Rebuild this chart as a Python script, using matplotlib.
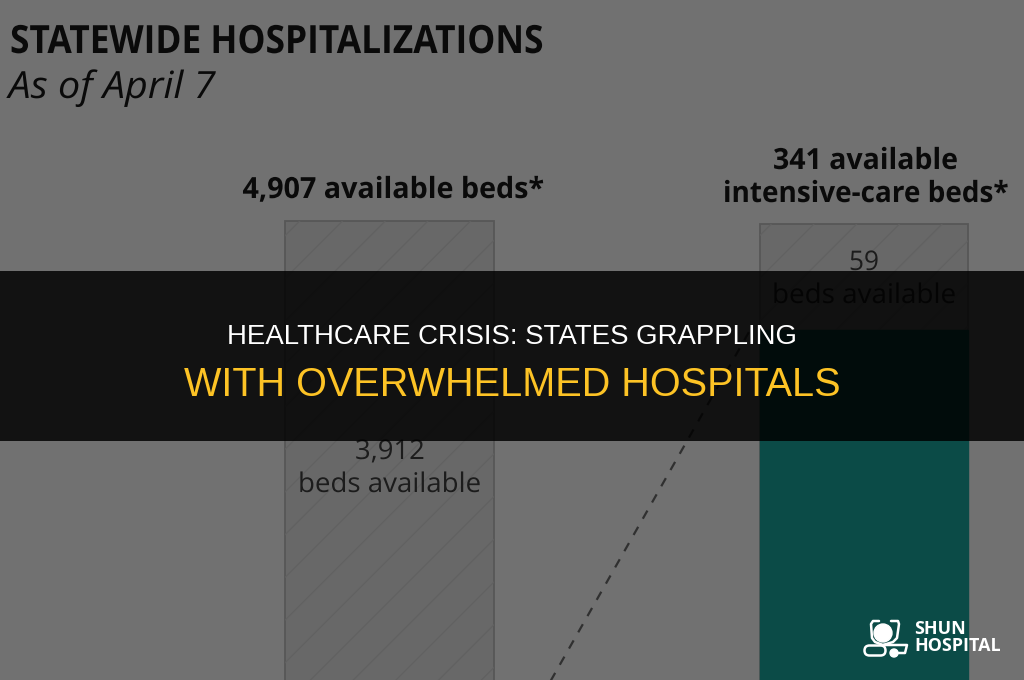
import numpy as np
import matplotlib
matplotlib.use("Agg")
import matplotlib.pyplot as plt
import matplotlib.patheffects as pe
from matplotlib.patches import Circle, FancyBboxPatch, Rectangle
from matplotlib.text import Text
from matplotlib.transforms import Affine2D

plt.rcParams['font.family'] = ['Open Sans', 'DejaVu Sans']

# bed counts as printed on the chart
general_total = 4907
general_free = 3912
icu_total = 341
icu_free = 59

# trend line between the two bars, in ICU beds
trend_x = [0.22, 0.76]
trend_y = [31, 282]

BG = "#717171"
BAR = "#686868"
EDGE = "#575757"
HATCH = "#616161"
TEAL = "#0b4b47"
INK = "#0a0a0a"

W, H = 1024, 680

fig = plt.figure(figsize=(W / 100, H / 100), dpi=100, facecolor=BG)
renderer = fig.canvas.get_renderer()


class Squeeze(pe.AbstractPathEffect):
    """Narrow glyph outlines horizontally around a fixed x pixel."""

    def __init__(self, x, factor):
        super().__init__()
        self.x = x
        self.factor = factor

    def draw_path(self, renderer, gc, tpath, affine, rgbFace=None):
        squeeze = Affine2D().translate(-self.x, 0).scale(self.factor, 1).translate(self.x, 0)
        renderer.draw_path(gc, tpath, affine + squeeze, rgbFace)


class NarrowText(Text):
    factor = 1.0

    def get_window_extent(self, renderer=None, dpi=None):
        box = super().get_window_extent(renderer, dpi)
        cx = self.get_position()[0] * W
        if self.get_ha() == "center":
            x0 = cx + (box.x0 - cx) * self.factor
            x1 = cx + (box.x1 - cx) * self.factor
        else:
            x0 = box.x0
            x1 = box.x0 + box.width * self.factor
        return type(box).from_extents(x0, box.y0, x1, box.y1)


def narrow_label(x, baseline, s, width, size, zorder=3, **kw):
    # x and baseline in pixels from the top left, width is the drawn width of the text
    t = NarrowText(x / W, 1 - baseline / H, s, transform=fig.transFigure, fontsize=size,
                   va="baseline", zorder=zorder, **kw)
    fig.add_artist(t)
    natural = Text.get_window_extent(t, renderer).width
    t.factor = width / natural
    t.set_path_effects([Squeeze(x, t.factor)])
    return t


# two overlaid axes, one bed scale per bar
ax = fig.add_axes([0, 0, 1, 1])
ax.set_xlim(-0.821, 1.337)
ax.set_ylim(1257, 6668)
ax.axis("off")
ax2 = fig.add_axes([0, 0, 1, 1], sharex=ax)
ax2.set_ylim(87, 465.6)
ax2.axis("off")
ax2.patch.set_alpha(0)

width = 0.44


def hatched_bar(axis, x, total, free):
    bar = axis.bar(x, total, width=width, color=BAR, edgecolor=EDGE, linewidth=1.3, zorder=2)[0]
    y0, y1 = axis.get_ylim()
    # sparse diagonal lines, clipped to the bar
    for off in np.arange(-1.0, 1.0, 0.09):
        xs = np.array([x - width, x + width])
        ys = y0 + (y1 - y0) * ((xs - x + off) * 474.5 / 680 + 0.5)
        ln, = axis.plot(xs, ys, color=HATCH, lw=0.9, zorder=3)
        ln.set_clip_path(bar)
    axis.bar(x, total - free, width=width, color=TEAL, edgecolor=TEAL, zorder=4)
    axis.set_ylim(y0, y1)


hatched_bar(ax, 0, general_total, general_free)
hatched_bar(ax2, 1, icu_total, icu_free)
ax2.plot(trend_x, trend_y, color="#303030", lw=1.6, dashes=(4.2, 4.2), zorder=5)
ax.set_xlim(-0.821, 1.337)

# headings
narrow_label(10, 53, "STATEWIDE HOSPITALIZATIONS", 533, 28, fontweight="bold", color=INK)
narrow_label(8.5, 98, "As of April 7", 207, 27, style="italic", color=INK)
narrow_label(393, 198, "4,907 available beds*", 301, 21, fontweight="bold", color=INK, ha="center")
narrow_label(865.5, 169, "341 available", 185, 21, fontweight="bold", color=INK, ha="center")
narrow_label(865.5, 202, "intensive-care beds*", 285, 21, fontweight="bold", color=INK, ha="center")
narrow_label(390, 459, "3,912", 70, 19.5, color="#1c1c1c", ha="center")
narrow_label(390, 492, "beds available", 184, 19.5, color="#1c1c1c", ha="center")
narrow_label(864, 270, "59", 30, 19.5, color="#1c1c1c", ha="center")
narrow_label(864.5, 303, "beds available", 185, 19.5, color="#1c1c1c", ha="center")

# dark caption band across the middle
fig.add_artist(Rectangle((0, 1 - 441 / H), 1, 170 / H, transform=fig.transFigure,
                         facecolor="black", alpha=0.84, edgecolor="none", zorder=8))
fig.text(0.5, 1 - 344 / H, "HEALTHCARE CRISIS: STATES GRAPPLING", fontsize=19.9, color="white",
         ha="center", va="baseline", family="Liberation Sans", zorder=9)
fig.text(0.5, 1 - 396 / H, "WITH OVERWHELMED HOSPITALS", fontsize=28.5, color="#fdc325",
         ha="center", va="baseline", family="Liberation Sans", zorder=9)

# stethoscope mark and name, bottom right
logo = fig.add_axes([0, 0, 1, 1], zorder=10)
logo.set_xlim(0, W)
logo.set_ylim(H, 0)
logo.axis("off")
logo.patch.set_alpha(0)
logo.add_patch(Circle((883, 633), 9, color="white"))
logo.plot([879, 873, 871, 872, 875, 883, 893, 897, 899, 898, 891],
          [621, 621, 624, 638, 642, 645, 642, 638, 624, 621, 621],
          color="white", lw=1.8, solid_capstyle="round")
logo.add_patch(FancyBboxPatch((866, 647), 18, 7, boxstyle="round,pad=1.5,rounding_size=5",
                              fc="none", ec="white", lw=1.8))
logo.plot([884, 907, 905, 897], [645, 645, 653, 653], color="white", lw=1.8)
logo.add_patch(Circle((894, 653), 4, color="white"))
logo.text(914, 634, "SHUN", fontsize=12.9, fontweight="bold", color="white", va="baseline")
logo.text(914, 651, "HOSPITAL", fontsize=12.9, fontweight="bold", color="white", va="baseline")

fig.savefig("out.png", dpi=100, facecolor=BG)
